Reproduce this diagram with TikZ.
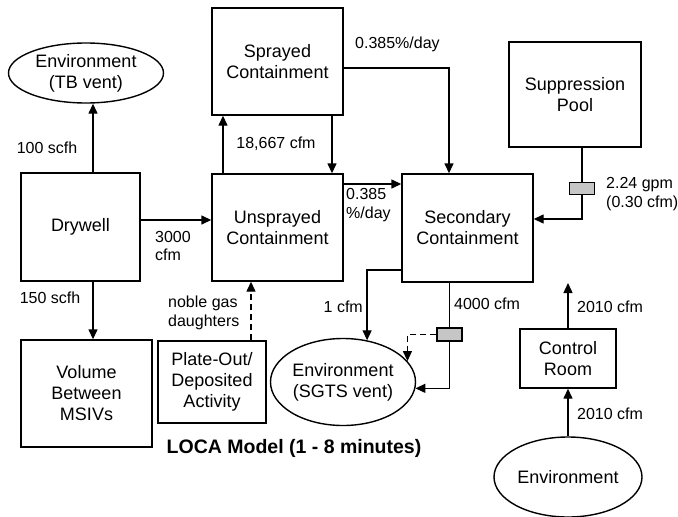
\documentclass[tikz,border=0pt]{standalone}
\usepackage{fontspec}
\setmainfont{Liberation Sans}
\usepackage{tikz}
\usetikzlibrary{arrows.meta, positioning, calc, shapes.geometric}
\newcommand{\boxfont}{\fontsize{18}{21}\selectfont}
\newcommand{\ratefont}{\fontsize{16}{18.5}\selectfont}
\tikzset{
  room/.style={draw, line width=1.4pt, minimum width=131pt, minimum height=107pt, align=center, font=\boxfont},
  outside/.style={draw, ellipse, line width=1.4pt, inner sep=0pt, align=center, font=\boxfont},
  filter/.style={draw, fill=gray!45, line width=1.2pt, minimum width=25pt, minimum height=12pt, inner sep=0pt},
  flow/.style={-{Triangle[length=10pt, width=9pt]}, line width=1.4pt},
  decay/.style={dash pattern=on 6pt off 4pt},
  rate/.style={font=\ratefont, align=left, inner sep=1pt}
}

\begin{document}
\begin{tikzpicture}[x=1pt, y=-1pt]
        \useasboundingbox (0,0) rectangle (678,517);

        % Volumes
        \node[room, minimum width=119pt, minimum height=108pt] (drywell)    at (80.5,227)   {Drywell};
        \node[room] (sprayed)    at (277.5,61.5)  {Sprayed\\Containment};
        \node[room] (unsprayed)  at (277.5,227.5) {Unsprayed\\Containment};
        \node[room, minimum height=108pt] (secondary)  at (467.5,228)   {Secondary\\Containment};
        \node[room, minimum width=132pt, minimum height=105pt] (pool) at (575,94.5) {Suppression\\Pool};
        \node[room] (volume)     at (86.5,393.5)  {Volume\\Between\\MSIVs};
        \node[room, minimum width=108pt, minimum height=82pt] (plate) at (212,382) {Plate-Out/\\Deposited\\Activity};
        \node[room, minimum width=96pt, minimum height=59pt] (control) at (568,358.5) {Control\\Room};

        % Environment
        \node[outside, minimum width=155pt, minimum height=60pt] (envtb)   at (86,73)   {Environment\\(TB vent)};
        \node[outside, minimum width=145pt, minimum height=87pt] (envsgts) at (343,382) {Environment\\(SGTS vent)};
        \node[outside, minimum width=148pt, minimum height=80pt] (envcr)   at (568,477) {Environment};

        % Filters
        \node[filter] (poolfilter) at (582,188.5) {};
        \node[filter, minimum height=13pt] (sgtsfilter) at (449.5,334.5) {};
        \coordinate (crexhaust) at (568,283);

        % Flows
        \draw[flow] ([xshift=12.5pt]drywell.north) -- ([xshift=12.5pt]drywell.north |- envtb.south);
        \draw[flow] ([xshift=12.5pt]drywell.south) -- ([xshift=12.5pt]drywell.south |- volume.north);
        \draw[flow] ([yshift=7pt]drywell.east) -- ([yshift=7pt]drywell.east -| unsprayed.west);

        \draw[flow] ([xshift=-54.5pt]unsprayed.north) -- ([xshift=-54.5pt]unsprayed.north |- sprayed.south);
        \draw[flow] ([xshift=54.5pt]sprayed.south) -- ([xshift=54.5pt]sprayed.south |- unsprayed.north);
        \draw[flow] ([yshift=-6.5pt]sprayed.east) -| ([xshift=-18.5pt]secondary.north);
        \draw[flow] ([yshift=43.5pt]unsprayed.east) -- ([yshift=43.5pt]unsprayed.east -| secondary.west);
        \draw[flow, decay] ([xshift=39pt]plate.north) -- ([xshift=39pt]plate.north |- unsprayed.south);

        \draw[line width=1.4pt] (poolfilter.north |- pool.south) -- (poolfilter.north);
        \draw[flow] (poolfilter.south) |- ([yshift=9pt]secondary.east);

        \draw[flow] ([yshift=-42pt]secondary.west) -| (envsgts.60);
        \draw[line width=1.4pt] ([xshift=-18pt]secondary.south) -- (sgtsfilter.north);
        \draw[flow] (sgtsfilter.south) |- (envsgts.-5);
        \draw[flow, decay, line width=1.2pt] (sgtsfilter.west) -| (envsgts.18);

        \draw[flow] (envcr.north) -- (control.south);
        \draw[flow] (control.north) -- (crexhaust);

        % Rates
        \node[rate] (rate100)   at (47,148)  {100 scfh};
        \node[rate] (rate150)   at (50,298)  {150 scfh};
        \node[rate, anchor=west] (rate3000) at (154,246) {3000\\cfm};
        \node[rate] (rate18667) at (276,144) {18,667 cfm};
        \node[rate, anchor=west] (rateday)  at (354,44)  {0.385\%/day};
        \node[rate, anchor=west] (ratesec)  at (345,205) {0.385\\\%/day};
        \node[rate, anchor=west] (rategpm)  at (605,194) {2.24 gpm\\(0.30 cfm)};
        \node[rate, anchor=east] (rate1)    at (364,307) {1 cfm};
        \node[rate, anchor=west] (rate4000) at (453,304) {4000 cfm};
        \node[rate, anchor=west] (ratenoble) at (167,313) {noble gas\\daughters};
        \node[rate, anchor=west] (rateout)  at (576,307) {2010 cfm};
        \node[rate, anchor=west] (ratein)   at (576,414) {2010 cfm};

        % Title
        \node[font=\fontsize{19.5}{22}\selectfont\bfseries] (title) at (294,448) {LOCA Model (1 - 8 minutes)};
    \end{tikzpicture}
\end{document}
